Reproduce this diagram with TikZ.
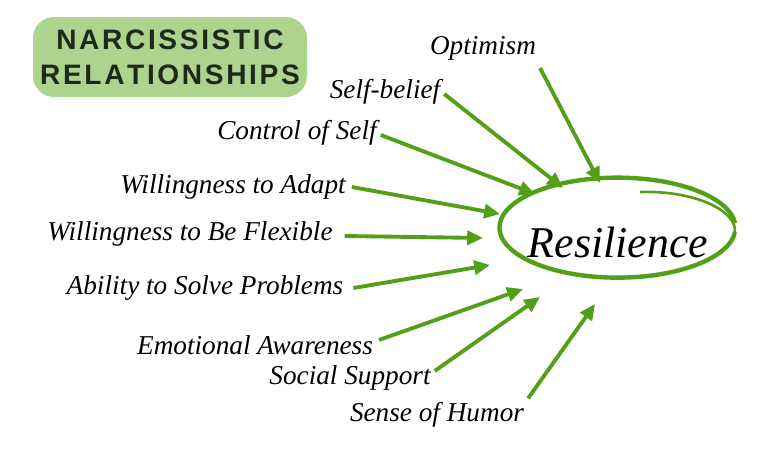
\documentclass[tikz,border=0pt]{standalone}
\usepackage{fontspec}
\setmainfont{Liberation Serif}
\setsansfont{Liberation Sans}
\usetikzlibrary{positioning, arrows.meta, calc}
\definecolor{arrowgreen}{RGB}{82,160,24}
\definecolor{badgegreen}{RGB}{172,212,140}
\definecolor{badgetext}{RGB}{30,40,30}

\begin{document}
\begin{tikzpicture}[x=0.02cm, y=-0.02cm,
factor/.style={font=\itshape\fontsize{15.5}{17}\selectfont, inner sep=1pt},
arrow/.style={-{Triangle[length=9pt,width=8pt]}, line width=2.2pt, arrowgreen}
]
\useasboundingbox (0,0) rectangle (768,470);

% Badge
\node[fill=badgegreen, rounded corners=12pt, minimum width=274*0.02cm,
minimum height=80*0.02cm, align=center, text=badgetext,
font=\sffamily\bfseries\fontsize{16}{20}\selectfont] (badge) at (170,57)
{N\kern1.5pt A\kern1.5pt R\kern1.5pt C\kern1.5pt I\kern1.5pt S\kern1.5pt S\kern1.5pt I\kern1.5pt S\kern1.5pt T\kern1.5pt I\kern1.5pt C\\R\kern1.5pt E\kern1.5pt L\kern1.5pt A\kern1.5pt T\kern1.5pt I\kern1.5pt O\kern1.5pt N\kern1.5pt S\kern1.5pt H\kern1.5pt I\kern1.5pt P\kern1.5pt S};

% Centre
\node[font=\itshape\fontsize{25}{28}\selectfont] (resilience) at (618,242) {Resilience};
\draw[arrowgreen, line width=2.5pt] (735,232) arc[start angle=5, end angle=355, x radius=118, y radius=50];
\draw[arrowgreen, line width=1.5pt] (733,238) .. controls (745,215) and (700,190) .. (640,192);

% Factors
\node[factor] (optimism) at (483,48) {Optimism};
\node[factor] (belief) at (385,92) {Self-belief};
\node[factor] (control) at (297,133) {Control of Self};
\node[factor] (adapt) at (233,187) {Willingness to Adapt};
\node[factor] (flexible) at (190,234) {Willingness to Be Flexible};
\node[factor] (problems) at (205,288) {Ability to Solve Problems};
\node[factor] (emotion) at (255,345) {Emotional Awareness};
\node[factor] (support) at (350,378) {Social Support};
\node[factor] (humor) at (437,415) {Sense of Humor};

% Arrow ends
\coordinate (e1) at (600,183);
\coordinate (e2) at (563,188);
\coordinate (e3) at (535,194);
\coordinate (e4) at (500,214);
\coordinate (e5) at (483,238);
\coordinate (e6) at (490,265);
\coordinate (e7) at (523,289);
\coordinate (e8) at (540,297);
\coordinate (e9) at (595,304);

% Arrows
\draw[arrow] ($(optimism.south east)+(2,6)$) -- (e1);
\draw[arrow] ($(belief.east)+(2,2)$) -- (e2);
\draw[arrow] ($(control.east)+(2,2)$) -- (e3);
\draw[arrow] ($(adapt.east)+(4,0)$) -- (e4);
\draw[arrow] ($(flexible.east)+(10,2)$) -- (e5);
\draw[arrow] ($(problems.east)+(8,0)$) -- (e6);
\draw[arrow] ($(emotion.east)+(4,-5)$) -- (e7);
\draw[arrow] ($(support.east)+(2,-7)$) -- (e8);
\draw[arrow] ($(humor.north east)+(2,-2)$) -- (e9);

\end{tikzpicture}
\end{document}
